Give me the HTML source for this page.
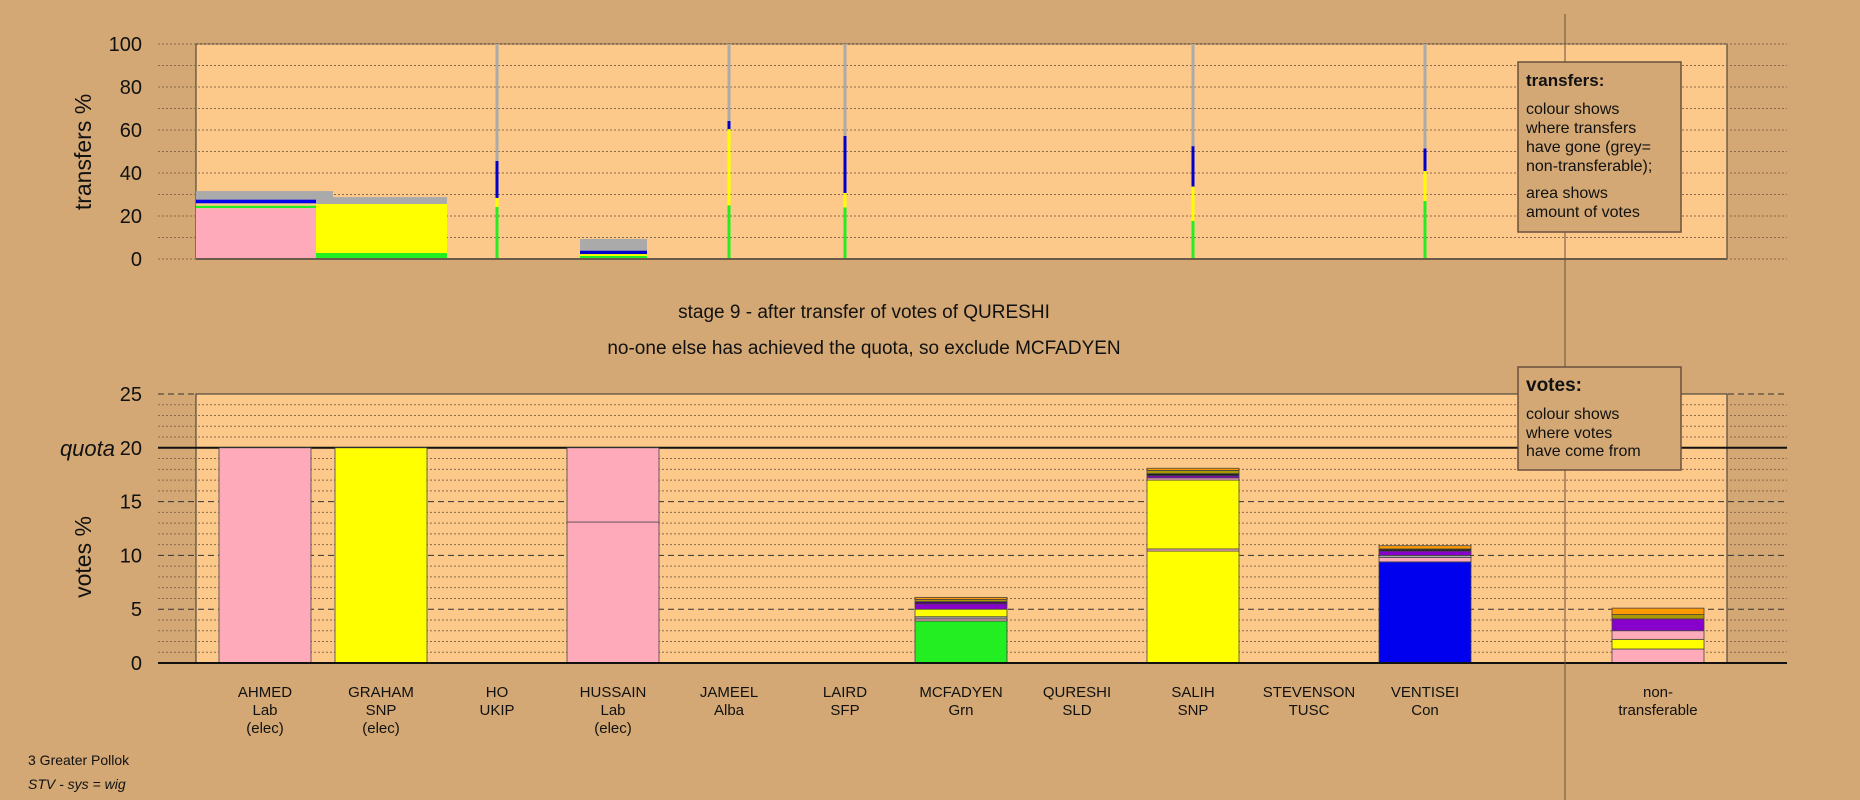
<!DOCTYPE html>
<html><head><meta charset="utf-8"><style>
html,body{margin:0;padding:0;background:#D3A874;}
svg{display:block;font-family:"Liberation Sans",sans-serif;}
</style></head><body>
<svg id="c" width="1860" height="800" xmlns="http://www.w3.org/2000/svg">
<rect x="0" y="0" width="1860" height="800" fill="#D3A874"/>
<g id="topPanel"></g>
<g id="botPanel"></g>
<text x="864" y="318" font-size="19" text-anchor="middle" fill="#111">stage 9 - after transfer of votes of QURESHI</text>
<text x="864" y="354" font-size="19" text-anchor="middle" fill="#111">no-one else has achieved the quota, so exclude MCFADYEN</text>
<text x="28" y="765" font-size="14" fill="#111">3 Greater Pollok</text>
<text x="28" y="789" font-size="14" font-style="italic" fill="#111">STV - sys = wig</text>
</svg>
<script>
// ---- data ----
const candidates = ["AHMED","GRAHAM","HO","HUSSAIN","JAMEEL","LAIRD","MCFADYEN","QURESHI","SALIH","STEVENSON","VENTISEI"];
const parties = ["Lab","SNP","UKIP","Lab","Alba","SFP","Grn","SLD","SNP","TUSC","Con"];
const elected = [true,true,false,true,false,false,false,false,false,false,false];
const topTicks = [0,20,40,60,80,100];
const botTicks = [0,5,10,15,20,25];
const quota = 20;
const transferSegs = [
 [0, [["#aaaaaa",27.6,31.6]], 1],
 [0, [["#ffaabb",0,23.7],["#22ee22",23.7,24.8],["#ffcc88",24.8,25.9],["#0000ee",25.9,27.6]], 0],
 [1, [["#22ee22",0,2.8],["#ffff00",2.8,25.6],["#aaaaaa",25.6,28.8]], 0],
 [2, [["#22ee22",0,24.2],["#ffff00",24.2,28.4],["#0000cc",28.4,45.6],["#aaaaaa",45.6,100]], 0],
 [3, [["#22ee22",0,1.4],["#ffff00",1.4,2.3],["#0000cc",2.3,3.9],["#aaaaaa",3.9,9.3]], 0],
 [4, [["#22ee22",0,25],["#ffff00",25,60.4],["#0000cc",60.4,64.2],["#aaaaaa",64.2,100]], 0],
 [5, [["#22ee22",0,24],["#ffff00",24,30.7],["#0000cc",30.7,57.2],["#aaaaaa",57.2,100]], 0],
 [8, [["#22ee22",0,17.7],["#ffff00",17.7,33.7],["#0000cc",33.7,52.5],["#aaaaaa",52.5,100]], 0],
 [10,[["#22ee22",0,27],["#ffff00",27,40.9],["#0000cc",40.9,51.4],["#aaaaaa",51.4,100]], 0]
];
const voteSegs = [
 [0, [["#ffaabb",0,20]]],
 [1, [["#ffff00",0,20]]],
 [3, [["#ffaabb",0,13.1],["#ffaabb",13.1,20]]],
 [6, [["#22ee22",0,3.9],["#ffaabb",3.9,4.1],["#aaaaaa",4.1,4.3],["#ffff00",4.3,5.0],["#8800cc",5.0,5.5],["#440077",5.5,5.7],["#aa9900",5.7,5.9],["#ff9900",5.9,6.1]]],
 [8, [["#ffff00",0,10.4],["#ffaabb",10.4,10.6],["#ffff00",10.6,17.0],["#ffaabb",17.0,17.2],["#8800cc",17.2,17.4],["#222222",17.4,17.6],["#aa9900",17.6,17.9],["#ff9900",17.9,18.1]]],
 [10,[["#0000ee",0,9.4],["#ffaabb",9.4,9.8],["#aaaaaa",9.8,10.0],["#8800cc",10.0,10.4],["#222222",10.4,10.6],["#ff9900",10.6,10.9]]],
 [11,[["#ffaabb",0,1.3],["#ffff00",1.3,2.2],["#ffaabb",2.2,3.0],["#8800cc",3.0,4.1],["#aa9900",4.1,4.5],["#ff9900",4.5,5.1]]]
];
// ---- layout ----
const NS="http://www.w3.org/2000/svg";
const PL=196, PR=1727, GL=158, GR=1787;
const T0=259, T100=44, B0=663, B25=394;
const ty=v=>T0-(T0-T100)*v/100;
const by=v=>B0-(B0-B25)*v/25;
const cx=i=> i<11 ? 265+116*i : 1658;
function mk(parent,tag,attrs,name,txt){const e=document.createElementNS(NS,tag);for(const k in attrs)e.setAttribute(k,attrs[k]);


if(txt!==undefined)e.textContent=txt;parent.appendChild(e);return e;}
const topG=document.getElementById('topPanel'), botG=document.getElementById('botPanel');
// top panel
mk(topG,'rect',{x:PL,y:T100,width:PR-PL,height:T0-T100,fill:'#FDC98A',stroke:'#333','stroke-width':1},'transfers-plot-area');
for(let v=0;v<=100;v+=10){mk(topG,'line',{x1:GL,x2:GR,y1:ty(v),y2:ty(v),stroke:'#8a6a4a','stroke-width':1,'stroke-dasharray':'2,2'},'transfers-gridline');}
topTicks.forEach(v=>mk(topG,'text',{x:142,y:ty(v)+7,'font-size':20,'text-anchor':'end',fill:'#111'},'transfers-tick-label',String(v)));
mk(topG,'text',{x:0,y:0,'font-size':23,'text-anchor':'middle',fill:'#111',transform:'translate(91,152) rotate(-90)'},'transfers-axis-title','transfers %');
transferSegs.forEach(([ci,segs,wide])=>{
  let x,w;
  if(ci===0){x=PL;w=wide?137:120;} else if(ci===1){x=316;w=131;} else if(ci===3){x=580;w=67;} else {x=cx(ci)-1.5;w=3;}
  segs.forEach(([col,a,b])=>mk(topG,'rect',{x:x,y:ty(b),width:w,height:ty(a)-ty(b),fill:col},'transfer-seg-'+candidates[ci].toLowerCase()));
});
mk(topG,'line',{x1:PL,x2:PR,y1:T0,y2:T0,stroke:'#6a5a4a','stroke-width':2},'transfers-baseline');
// bottom panel
mk(botG,'rect',{x:PL,y:B25,width:PR-PL,height:B0-B25,fill:'#FDC98A',stroke:'#333','stroke-width':1},'votes-plot-area');
for(let v=0;v<=25;v++){const major=v%5===0;
 mk(botG,'line',{x1:GL,x2:GR,y1:by(v),y2:by(v),stroke:major?'#333':'#8a6a4a','stroke-width':1,'stroke-dasharray':major?'6,4':'2,2'},'votes-gridline');}
mk(botG,'line',{x1:GL,x2:GR,y1:by(quota),y2:by(quota),stroke:'#111','stroke-width':2},'quota-line');
botTicks.forEach(v=>mk(botG,'text',{x:142,y:by(v)+7,'font-size':20,'text-anchor':'end',fill:'#111'},'votes-tick-label',String(v)));
mk(botG,'text',{x:115,y:by(quota)+8,'font-size':22,'font-style':'italic','text-anchor':'end',fill:'#111'},'quota-label','quota');
mk(botG,'text',{x:0,y:0,'font-size':23,'text-anchor':'middle',fill:'#111',transform:'translate(91,557) rotate(-90)'},'votes-axis-title','votes %');
voteSegs.forEach(([ci,segs])=>{
  const x=cx(ci)-46;
  segs.forEach(([col,a,b])=>mk(botG,'rect',{x:x,y:by(b),width:92,height:by(a)-by(b),fill:col,stroke:'#444','stroke-width':0.8},'vote-seg-'+(ci<11?candidates[ci].toLowerCase():'non-transferable')));
});
mk(botG,'line',{x1:GL,x2:GR,y1:B0,y2:B0,stroke:'#111','stroke-width':2},'votes-baseline');
candidates.forEach((n,i)=>{
  const lines=[n,parties[i]]; if(elected[i])lines.push('(elec)');
  lines.forEach((t,j)=>mk(botG,'text',{x:cx(i),y:697+j*18,'font-size':15,'text-anchor':'middle',fill:'#111'},'candidate-label',t));
});
mk(botG,'text',{x:cx(11),y:697,'font-size':15,'text-anchor':'middle',fill:'#111'},'candidate-label','non-');
mk(botG,'text',{x:cx(11),y:715,'font-size':15,'text-anchor':'middle',fill:'#111'},'candidate-label','transferable');
const svgEl=document.getElementById('c');
mk(svgEl,'line',{x1:1565,x2:1565,y1:14,y2:800,stroke:'#6a5040','stroke-width':1},'nontransferable-divider');
const lg1=mk(svgEl,'g',{},'transfers-legend');
mk(lg1,'rect',{x:1518,y:62,width:163,height:170,fill:'#D3A874',stroke:'#6a5040','stroke-width':1.5},'transfers-legend-box');
mk(lg1,'text',{x:1526,y:86,'font-size':17,'font-weight':'bold',fill:'#111'},'transfers-legend-title','transfers:');
[["colour shows",114],["where transfers",133],["have gone (grey=",152],["non-transferable);",171],["area shows",198],["amount of votes",217]].forEach(([t,y])=>mk(lg1,'text',{x:1526,y:y,'font-size':16,fill:'#111'},'transfers-legend-text',t));
const lg2=mk(svgEl,'g',{},'votes-legend');
mk(lg2,'rect',{x:1518,y:367,width:163,height:103,fill:'#D3A874',stroke:'#6a5040','stroke-width':1.5},'votes-legend-box');
mk(lg2,'text',{x:1526,y:391,'font-size':19,'font-weight':'bold',fill:'#111'},'votes-legend-title','votes:');
[["colour shows",419],["where votes",438],["have come from",456]].forEach(([t,y])=>mk(lg2,'text',{x:1526,y:y,'font-size':16,fill:'#111'},'votes-legend-text',t));
</script>
</body></html>
